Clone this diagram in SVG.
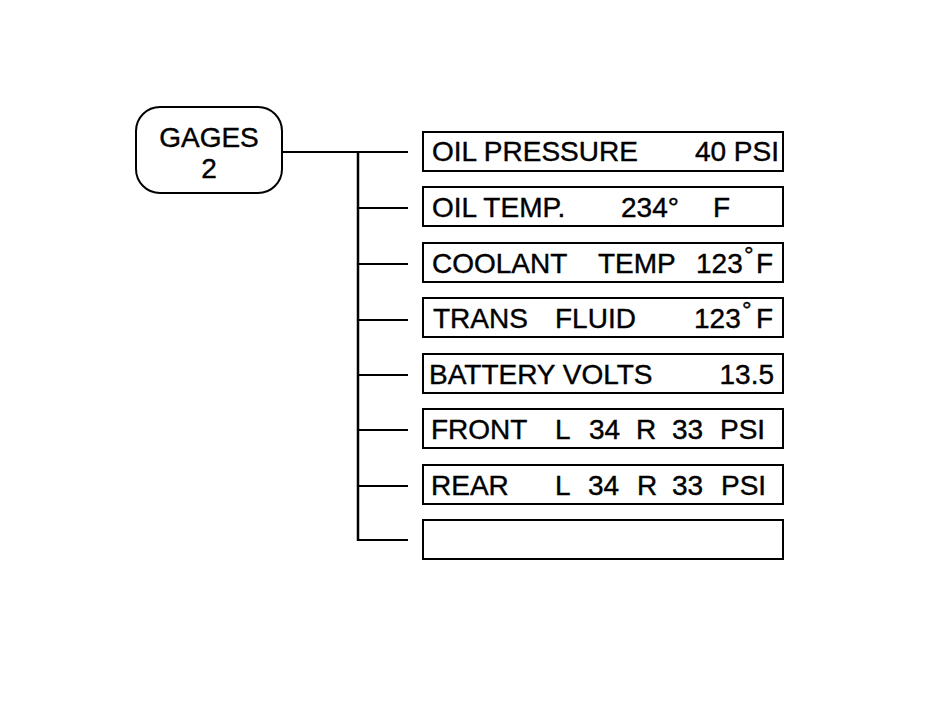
<svg xmlns="http://www.w3.org/2000/svg" width="943" height="714" viewBox="0 0 943 714">
<style>
.box{fill:#fff;stroke:#000;stroke-width:2}
.ln{stroke:#000;stroke-width:2;fill:none}
text{font-family:"Liberation Sans",Arial,Helvetica,sans-serif;font-size:28px;fill:#000;stroke:#000;stroke-width:0.4}
.deg{font-size:24px}
</style>
<rect width="943" height="714" fill="#fff"/>
<g id="connectors">
<path class="ln" d="M282 152H408"/>
<path class="ln" d="M358 151V541" style="stroke-width:2.5"/>
<path class="ln" d="M358 208H408M358 264H408M358 320H408M358 375H408M358 430H408M358 486H408M358 540H408"/>
</g>
<g id="gages">
<rect class="box" x="136" y="107" width="146" height="86" rx="24"/>
<text x="209" y="147" text-anchor="middle">GAGES</text>
<text x="209" y="178" text-anchor="middle">2</text>
</g>
<g id="oil-pressure">
<rect class="box" x="423" y="132" width="360" height="39"/>
<text x="432" y="161">OIL PRESSURE</text>
<text x="779" y="161" text-anchor="end">40 PSI</text>
</g>
<g id="oil-temp">
<rect class="box" x="423" y="187" width="360" height="39"/>
<text x="432" y="217">OIL TEMP.</text>
<text x="621" y="217">234°</text>
<text x="713" y="217">F</text>
</g>
<g id="coolant">
<rect class="box" x="423" y="243" width="360" height="39"/>
<text x="432" y="273">COOLANT</text>
<text x="598" y="273">TEMP</text>
<text x="696" y="273">123</text>
<text x="744" y="263" class="deg">°</text>
<text x="756" y="273">F</text>
</g>
<g id="trans">
<rect class="box" x="423" y="298" width="360" height="39"/>
<text x="433" y="328">TRANS</text>
<text x="555" y="328">FLUID</text>
<text x="694" y="328">123</text>
<text x="742" y="318" class="deg">°</text>
<text x="756" y="328">F</text>
</g>
<g id="battery">
<rect class="box" x="423" y="354" width="360" height="39"/>
<text x="429" y="384">BATTERY VOLTS</text>
<text x="774" y="384" text-anchor="end">13.5</text>
</g>
<g id="front">
<rect class="box" x="423" y="409" width="360" height="39"/>
<text x="431" y="439">FRONT</text>
<text x="555" y="439">L</text>
<text x="589" y="439">34</text>
<text x="636" y="439">R</text>
<text x="672" y="439">33</text>
<text x="720" y="439">PSI</text>
</g>
<g id="rear">
<rect class="box" x="423" y="465" width="360" height="39"/>
<text x="431" y="495">REAR</text>
<text x="555" y="495">L</text>
<text x="588" y="495">34</text>
<text x="637" y="495">R</text>
<text x="672" y="495">33</text>
<text x="721" y="495">PSI</text>
</g>
<g id="empty">
<rect class="box" x="423" y="520" width="360" height="39"/>
</g>
</svg>
